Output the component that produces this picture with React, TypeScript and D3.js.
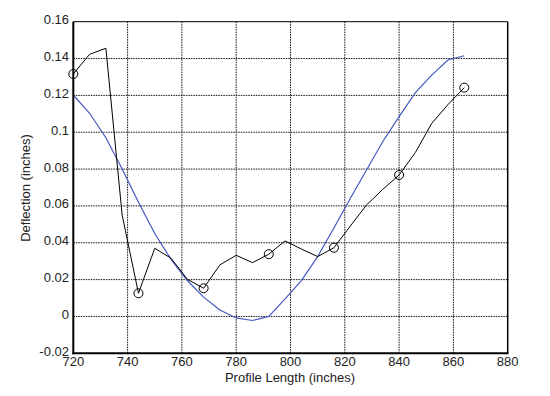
import React from "react";
import * as d3 from "d3";

const xTicks = [720, 740, 760, 780, 800, 820, 840, 860, 880];
const yTicks = [-0.02, 0, 0.02, 0.04, 0.06, 0.08, 0.1, 0.12, 0.14, 0.16];
const yTickLabels = ["-0.02", "0", "0.02", "0.04", "0.06", "0.08", "0.1", "0.12", "0.14", "0.16"];

const measuredX = [720, 726, 732, 738, 744, 750, 756, 762, 768, 774, 780, 786, 792, 798, 804, 810, 816, 822, 828, 834, 840, 846, 852, 858, 864];
const measuredY = [0.1316, 0.1423, 0.1456, 0.055, 0.0126, 0.037, 0.0316, 0.0202, 0.0153, 0.028, 0.0332, 0.0292, 0.0338, 0.041, 0.0366, 0.0325, 0.0373, 0.049, 0.0605, 0.069, 0.0768, 0.089, 0.1048, 0.115, 0.1242];
const markerX = [720, 744, 768, 792, 816, 840, 864];

const fitX = [720, 726, 732, 738, 744, 750, 756, 762, 768, 774, 780, 786, 792, 798, 804, 810, 816, 822, 828, 834, 840, 846, 852, 858, 864];
const fitY = [0.1202, 0.1103, 0.097, 0.080, 0.062, 0.045, 0.031, 0.0195, 0.0105, 0.0035, -0.0008, -0.0022, 0.0, 0.0095, 0.0195, 0.0325, 0.048, 0.064, 0.0795, 0.095, 0.1085, 0.1215, 0.131, 0.1392, 0.1415];

const W = 550;
const H = 396;
const L = 73.3, R = 507.7, T = 21.7, B = 353.3;

export default function App() {
  const x = d3.scaleLinear().domain([720, 880]).range([L, R]);
  const y = d3.scaleLinear().domain([-0.02, 0.16]).range([B, T]);
  const lineGen = d3.line<[number, number]>().x(d => x(d[0])).y(d => y(d[1]));
  const measured: [number, number][] = measuredX.map((v, i) => [v, measuredY[i]]);
  const fit: [number, number][] = fitX.map((v, i) => [v, fitY[i]]);
  const markers = markerX.map(v => [v, measuredY[measuredX.indexOf(v)]] as [number, number]);
  const font = "'Liberation Sans', Arial, Helvetica, sans-serif";
  return (
    <svg width={W} height={H} style={{ position: "absolute", left: 0, top: 0, background: "#fff" }}>
      <rect x={0} y={0} width={W} height={H} fill="#fff" />
      {xTicks.slice(1, -1).map(t => (
        <line key={"gx" + t} x1={x(t)} x2={x(t)} y1={T} y2={B} stroke="#111" strokeWidth={1} strokeDasharray="1.5,1" />
      ))}
      {yTicks.slice(1, -1).map(t => (
        <line key={"gy" + t} x1={L} x2={R} y1={y(t)} y2={y(t)} stroke="#111" strokeWidth={1} strokeDasharray="1.5,1" />
      ))}
      <path d={lineGen(fit) || ""} fill="none" stroke="#4658c0" strokeWidth={1.2} />
      <path d={lineGen(measured) || ""} fill="none" stroke="#000" strokeWidth={1} />
      {markers.map(m => (
        <circle key={"m" + m[0]} cx={x(m[0])} cy={y(m[1])} r={4.5} fill="none" stroke="#000" strokeWidth={1} />
      ))}
      <line x1={L} x2={R} y1={T} y2={T} stroke="#000" strokeWidth={1} />
      <line x1={R} x2={R} y1={T} y2={B} stroke="#000" strokeWidth={1.5} />
      <line x1={L} x2={L} y1={T} y2={B + 1} stroke="#000" strokeWidth={2} />
      <line x1={L - 1} x2={R + 0.75} y1={B} y2={B} stroke="#000" strokeWidth={2} />
      {xTicks.map(t => (
        <text key={"xl" + t} x={x(t)} y={366} textAnchor="middle" fontFamily={font} fontSize={13} fill="#222">{t}</text>
      ))}
      {yTicks.map((t, i) => (
        <text key={"yl" + t} x={69} y={y(t) + 2.5} textAnchor="end" fontFamily={font} fontSize={13} fill="#222">{yTickLabels[i]}</text>
      ))}
      <text x={290} y={382} textAnchor="middle" fontFamily={font} fontSize={13} fill="#222">Profile Length (inches)</text>
      <text transform="translate(30,188) rotate(-90)" textAnchor="middle" fontFamily={font} fontSize={13} fill="#222">Deflection (inches)</text>
    </svg>
  );
}
